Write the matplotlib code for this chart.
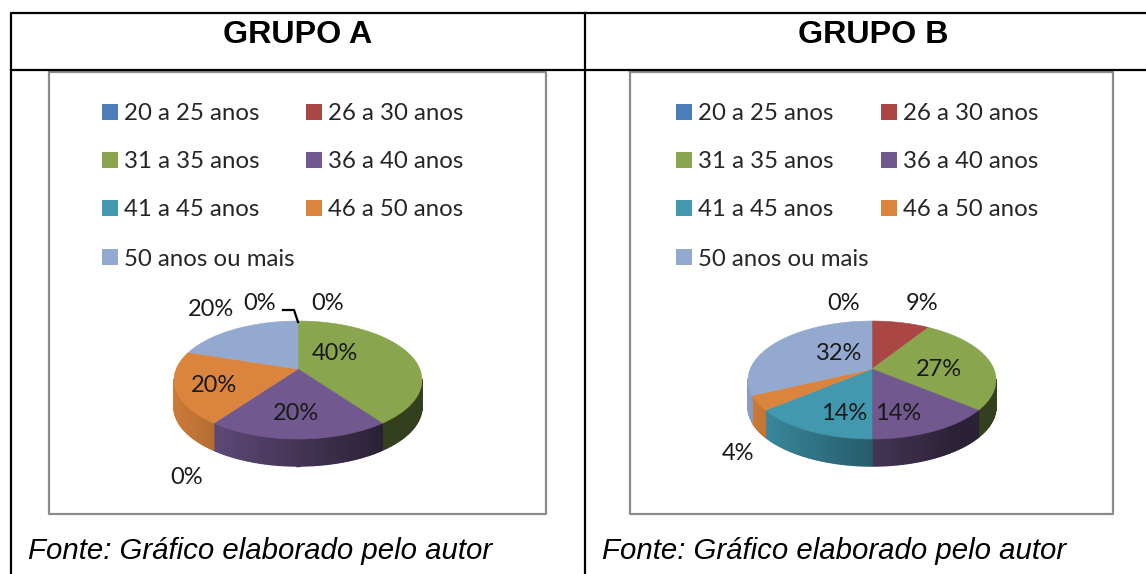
import matplotlib
matplotlib.use("Agg")
import matplotlib.pyplot as plt
from matplotlib.patches import Polygon, Rectangle
import matplotlib.colors as mcolors
import numpy as np

categories = ["20 a 25 anos", "26 a 30 anos", "31 a 35 anos", "36 a 40 anos",
              "41 a 45 anos", "46 a 50 anos", "50 anos ou mais"]
colors = ["#4a7ebb", "#aa4643", "#89a54e", "#71588f", "#4198af", "#db843d", "#93a9cf"]
grupo_a = [0, 0, 40, 20, 0, 20, 20]
grupo_b = [0, 9, 27, 14, 14, 4, 32]
titles = ["GRUPO A", "GRUPO B"]
fonte = "Fonte: Gráfico elaborado pelo autor"

# label text and pixel position, one list for each pie
labels_a = [("0%", 260, 304), ("0%", 328, 304), ("40%", 335, 354), ("20%", 296, 414),
            ("0%", 187, 478), ("20%", 214, 386), ("20%", 211, 309)]
labels_b = [("0%", 844, 304), ("9%", 922, 304), ("27%", 939, 369), ("14%", 898, 414),
            ("14%", 844, 414), ("4%", 738, 454), ("32%", 839, 354)]

cy, rx, ry, depth = 380, 124, 59, 27
tilt = -0.186  # apex sits above the ellipse centre

fig = plt.figure(figsize=(11.46, 5.74), dpi=100)
ax = fig.add_axes([0, 0, 1, 1])
ax.set_xlim(0, 1146)
ax.set_ylim(574, 0)
ax.axis("off")


def rim(theta):
    # point of the pie edge in perspective, theta clockwise from the top
    u, v = np.sin(theta), -np.cos(theta)
    d = 1 + tilt * v
    return u * np.sqrt(1 - tilt**2) / d, (v + tilt) / d


def draw_pie(values, cx):
    apex = cy + tilt * ry
    start = 0.0
    tops = []
    for val, col in zip(values, colors):
        end = start + val / sum(values) * 2 * np.pi
        if val > 0:
            t = np.linspace(start, end, 60)
            u, v = rim(t)
            x, y = cx + rx * u, cy + ry * v
            # side wall, darker to the right, only on the front half
            base = np.array(mcolors.to_rgb(col))
            for i in range(len(t) - 1):
                if v[i] < 0 and v[i + 1] < 0:
                    continue
                f = max(0.38, 0.6 - 0.33 * (u[i] + u[i + 1]) / 2)
                ax.add_patch(Polygon([(x[i], y[i]), (x[i + 1], y[i + 1]),
                                      (x[i + 1], y[i + 1] + depth), (x[i], y[i] + depth)],
                                     fc=base * f, ec=base * f, lw=1.0, zorder=2))
            tops.append(Polygon(np.vstack([[cx, apex], np.column_stack([x, y])]),
                                fc=col, ec=col, lw=0.4, zorder=3))
        start = end
    for p in tops:
        ax.add_patch(p)


def draw_legend(x0, x1):
    rows = [114, 162, 210, 259]
    for i, (name, col) in enumerate(zip(categories, colors)):
        x = x1 if i % 2 else x0
        y = rows[i // 2]
        ax.add_patch(Rectangle((x, y - 10), 16, 16, fc=col, ec="none", zorder=3))
        ax.text(x + 22, y, name, fontsize=17.3, family="Lato", color="#262626",
                va="center", ha="left", zorder=4)


# table lines
ax.plot([1146, 11, 11], [13, 13, 574], color="black", lw=1.6, zorder=5)
ax.plot([11, 1146], [70, 70], color="black", lw=1.6, zorder=5)
ax.plot([585, 585], [13, 574], color="black", lw=1.6, zorder=5)

# chart frames
ax.plot([49, 49, 546, 546, 49], [72, 514, 514, 72, 72], color="#8c8c8c", lw=1.6, zorder=1)
ax.plot([630, 630, 1113, 1113, 630], [72, 514, 514, 72, 72], color="#8c8c8c", lw=1.6, zorder=1)

for title, xc in zip(titles, [298, 873]):
    ax.text(xc, 35, title, fontsize=23.2, family="Liberation Sans", fontweight="bold",
            ha="center", va="center", color="black", zorder=6)
for xl in [28, 602]:
    ax.text(xl, 551, fonte, fontsize=21.2, family="Liberation Sans", style="italic",
            ha="left", va="center", color="black", zorder=6)

draw_legend(102, 306)
draw_legend(676, 881)
draw_pie(grupo_a, 298)
draw_pie(grupo_b, 872)

for lab in [labels_a, labels_b]:
    for txt, x, y in lab:
        ax.text(x, y, txt, fontsize=17, family="Lato", color="#1a1a1a",
                ha="center", va="center", zorder=7)

# leader line for the small slice in grupo A
ax.plot([283, 294, 298], [310, 310, 322], color="black", lw=1.6, zorder=6)

fig.savefig("out.png", dpi=100)
